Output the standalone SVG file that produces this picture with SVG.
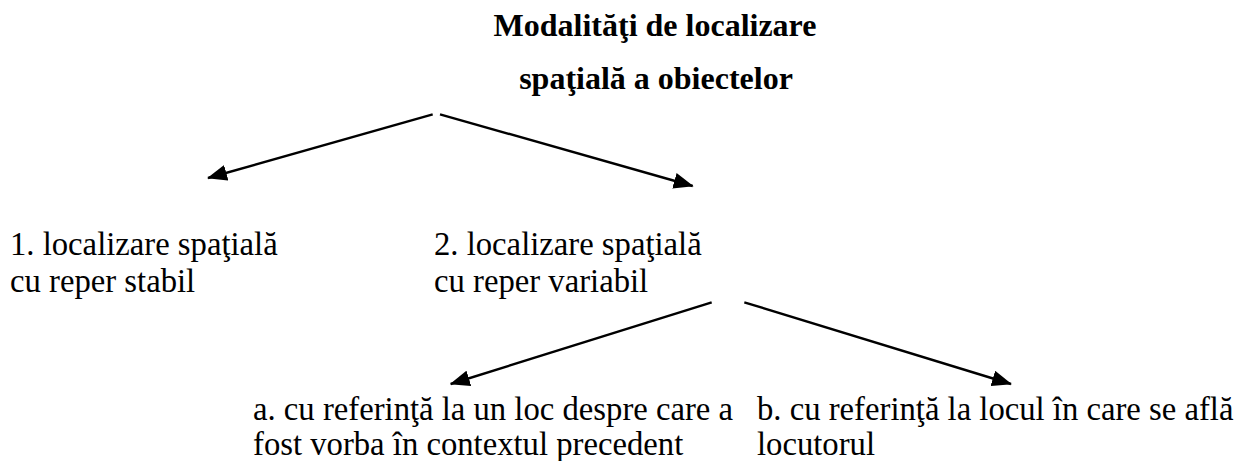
<svg xmlns="http://www.w3.org/2000/svg" width="1235" height="461" viewBox="0 0 1235 461">
  <style>
    .ttl { font-family: 'Liberation Serif', serif; font-weight: bold; font-size: 32px; text-anchor: middle; fill: #000; }
    .lbl { font-family: 'Liberation Serif', serif; font-weight: normal; font-size: 32.7px; fill: #000; }
    .conn { stroke: #000; stroke-width: 2.4; fill: none; }
  </style>
  <defs>
    <marker id="arrow" viewBox="0 0 20 16" refX="19" refY="8" markerWidth="20" markerHeight="16" markerUnits="userSpaceOnUse" orient="auto">
      <path d="M0,0 L20,8 L0,16 z" fill="#000"/>
    </marker>
  </defs>
  <rect width="1235" height="461" fill="#fff"/>

  <g id="node-root" font-family="Liberation Serif" font-weight="bold" font-size="32" text-anchor="middle">
    <text class="ttl" x="655" y="36">Modalităţi de localizare</text>
    <text class="ttl" x="656" y="89">spaţială a obiectelor</text>
  </g>

  <g id="node-1" font-family="Liberation Serif" font-size="32.7">
    <text class="lbl" x="10" y="255">1. localizare spaţială</text>
    <text class="lbl" x="10" y="292">cu reper stabil</text>
  </g>

  <g id="node-2" font-family="Liberation Serif" font-size="32.7">
    <text class="lbl" x="434" y="255">2. localizare spaţială</text>
    <text class="lbl" x="434" y="292">cu reper variabil</text>
  </g>

  <g id="node-a" font-family="Liberation Serif" font-size="32.7">
    <text class="lbl" x="253" y="420">a. cu referinţă la un loc despre care a</text>
    <text class="lbl" x="253" y="455">fost vorba în contextul precedent</text>
  </g>

  <g id="node-b" font-family="Liberation Serif" font-size="32.7">
    <text class="lbl" x="757" y="420">b. cu referinţă la locul în care se află</text>
    <text class="lbl" x="757" y="455">locutorul</text>
  </g>

  <g id="connectors">
    <line class="conn" x1="432.7" y1="114.3" x2="208" y2="178" marker-end="url(#arrow)"/>
    <line class="conn" x1="440" y1="114.3" x2="692.7" y2="186" marker-end="url(#arrow)"/>
    <line class="conn" x1="711.7" y1="302.3" x2="450.7" y2="384" marker-end="url(#arrow)"/>
    <line class="conn" x1="744.3" y1="302.3" x2="1011" y2="384" marker-end="url(#arrow)"/>
  </g>
</svg>
